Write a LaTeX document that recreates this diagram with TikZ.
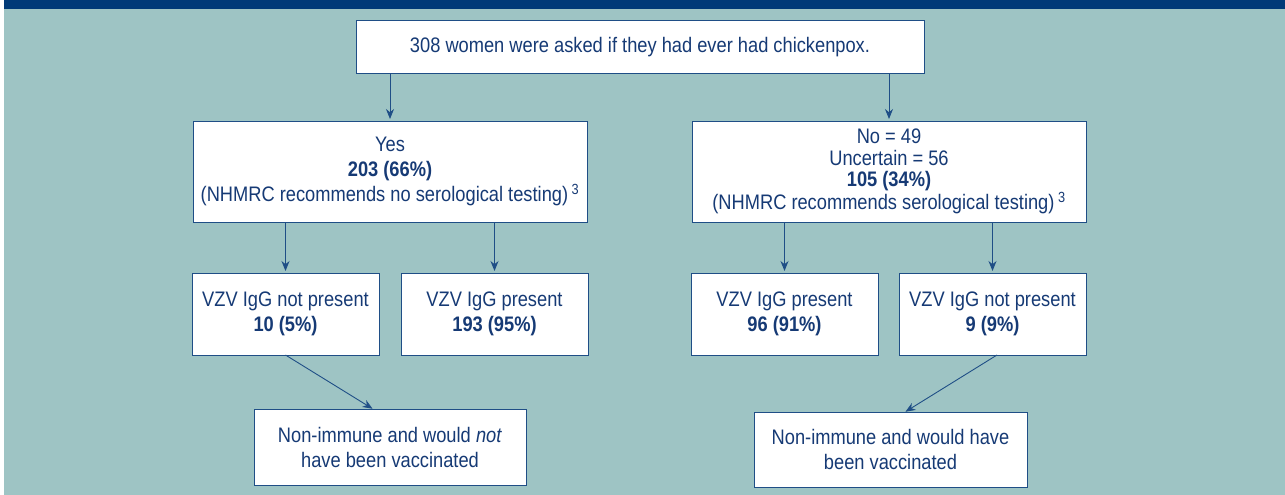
\documentclass[tikz,border=0pt]{standalone}
\usepackage{fontspec}
\setmainfont{Liberation Sans}[FakeStretch=0.87]
\usetikzlibrary{arrows.meta,calc}
\definecolor{bgteal}{HTML}{9EC4C4}
\definecolor{barblue}{HTML}{003A78}
\definecolor{txtblue}{HTML}{163A75}
\definecolor{lineblue}{HTML}{1F4E86}
\begin{document}
\begin{tikzpicture}[x=1pt,y=-1pt,
  box/.style={draw=lineblue,line width=0.9pt,fill=white,text=txtblue,align=center,
    inner sep=0pt,outer sep=0pt,font=\fontsize{21}{25}\selectfont},
  arr/.style={draw=lineblue,line width=0.9pt,-{Stealth[length=10pt,width=8pt]},shorten >=2pt}]
\useasboundingbox (0,0) rectangle (1285,495);
\fill[white] (0,0) rectangle (1285,495);
\fill[bgteal] (4,0) rectangle (1285,495);
\fill[barblue] (4,0) rectangle (1285,9);
\node[box,minimum width=568pt,minimum height=53pt] (top) at (640,47) {308 women were asked if they had ever had chickenpox.};
\node[box,minimum width=394pt,minimum height=101pt] (yes) at (390,171.5)
  {Yes\\\textbf{203 (66\%)}\\(NHMRC recommends no serological testing)\,\textsuperscript{3}};
\node[box,minimum width=394pt,minimum height=101pt,font=\fontsize{21}{21.5}\selectfont] (no) at (889,171.5)
  {No = 49\\Uncertain = 56\\\textbf{105 (34\%)}\\(NHMRC recommends serological testing)\,\textsuperscript{3}};
\node[box,minimum width=187pt,minimum height=82pt] (l1) at (285.5,314) {VZV IgG not present\\\textbf{10 (5\%)}};
\node[box,minimum width=187pt,minimum height=82pt] (l2) at (494.5,314) {VZV IgG present\\\textbf{193 (95\%)}};
\node[box,minimum width=187pt,minimum height=82pt] (r1) at (784.5,314) {VZV IgG present\\\textbf{96 (91\%)}};
\node[box,minimum width=187pt,minimum height=82pt] (r2) at (992.5,314) {VZV IgG not present\\\textbf{9 (9\%)}};
\node[box,minimum width=272pt,minimum height=76pt] (bl) at (390,447) {Non-immune and would \textit{not}\\have been vaccinated};
\node[box,minimum width=273pt,minimum height=75pt] (br) at (890.5,449.5) {Non-immune and would have\\been vaccinated};
\draw[arr] (top.south -| yes.north) -- (yes.north);
\draw[arr] (top.south -| no.north) -- (no.north);
\draw[arr] (yes.south -| l1.north) -- (l1.north);
\draw[arr] (yes.south -| l2.north) -- (l2.north);
\draw[arr] (no.south -| r1.north) -- (r1.north);
\draw[arr] (no.south -| r2.north) -- (r2.north);
\draw[arr,shorten >=0.5pt] (l1.south) -- ($(bl.north)+(-17,0)$);
\draw[arr,shorten >=0.5pt] ($(r2.south)+(4.5,0)$) -- ($(br.north)+(14.5,0)$);
\end{tikzpicture}
\end{document}
